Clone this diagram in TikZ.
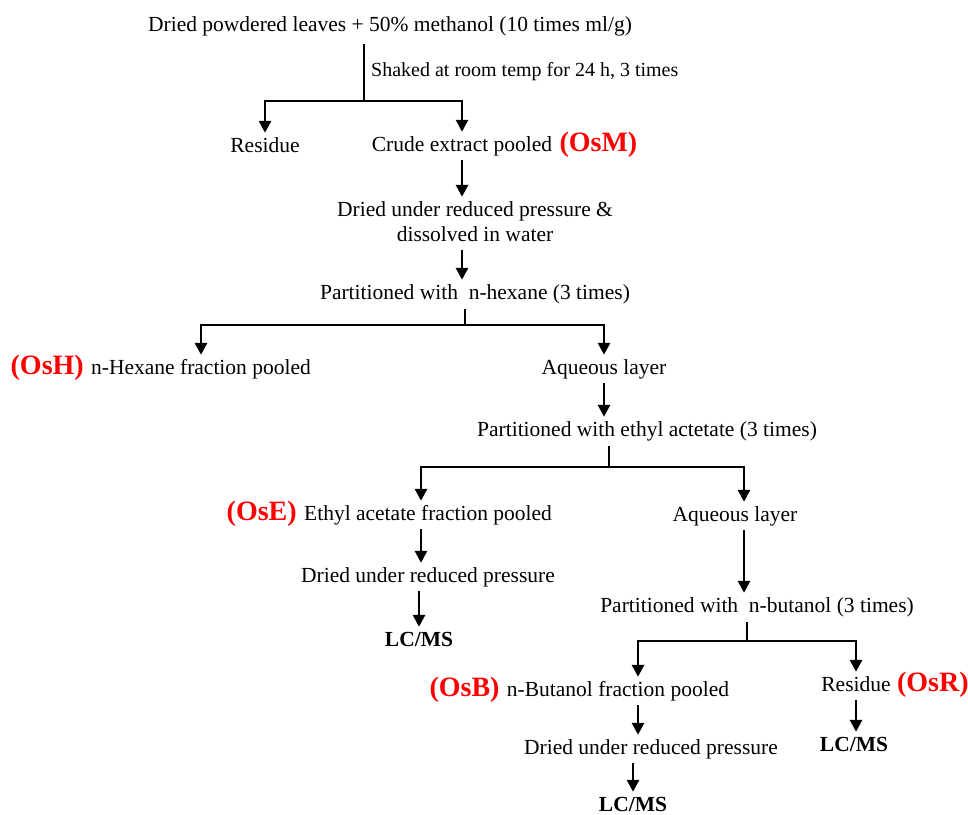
\documentclass[tikz,border=0pt]{standalone}
\usepackage{fontspec}
\setmainfont{Liberation Serif}
\usetikzlibrary{arrows.meta,positioning}
\definecolor{tagred}{HTML}{FF0000}

\begin{document}
\begin{tikzpicture}[x=1pt, y=-1pt, font=\fontsize{21.5}{25}\selectfont]
  \tikzset{txt/.style={anchor=base, inner sep=0pt, text height=15pt, text depth=5pt},
    small/.style={txt, font=\fontsize{20}{24}\selectfont},
    lcms/.style={txt, font=\fontsize{21.5}{25}\selectfont\bfseries},
    tag/.style={inner sep=0pt, text=tagred, font=\fontsize{28}{31}\selectfont\bfseries},
    ln/.style={line width=2.8pt},
    arr/.style={ln, -{Triangle[length=12pt,width=12pt]}, shorten >=4pt}}
  \useasboundingbox (0,0) rectangle (968,814);

  % extraction
  \node[txt] (leaves) at (390,31) {Dried powdered leaves + 50\% methanol (10 times ml/g)};
  \coordinate (j1) at (364,101);
  \node[small, anchor=base west] (shake) at (371,76) {Shaked at room temp for 24 h, 3 times};
  \node[txt] (res1) at (265,152) {Residue};
  \node[txt] (crude) at (462,151) {Crude extract pooled};
  \node[tag, base right=7pt of crude] (osm) {(OsM)};
  \draw[ln, shorten <=8pt] (leaves.south -| j1) -- (j1);
  \draw[arr] (j1) -| (res1);
  \draw[arr] (j1) -| (crude);

  % concentration
  \node[txt] (dry1) at (475,216) {Dried under reduced pressure \&};
  \node[txt] (diss) at (475,241) {dissolved in water};
  \node[txt] (hexpart) at (475,299) {Partitioned with \ n-hexane (3 times)};
  \draw[arr, shorten <=4pt] (crude.south) -- (crude.south |- dry1.north);
  \draw[arr, shorten <=4pt] (crude.south |- diss.south) -- (crude.south |- hexpart.north);

  % n-hexane partition
  \coordinate (j2) at (465,325);
  \draw[ln, shorten <=5pt] (hexpart.south -| j2) -- (j2);
  \node[txt] (hex) at (201,374) {n-Hexane fraction pooled};
  \node[tag, base left=7pt of hex] (osh) {(OsH)};
  \node[txt] (aq1) at (604,374) {Aqueous layer};
  \draw[arr] (j2) -| (hex);
  \draw[arr] (j2) -| (aq1);

  % ethyl acetate partition
  \node[txt] (etpart) at (647,436) {Partitioned with ethyl actetate (3 times)};
  \draw[arr, shorten <=4pt] (aq1.south) -- (aq1.south |- etpart.north);
  \coordinate (j3) at (609,467);
  \draw[ln, shorten <=5pt] (etpart.south -| j3) -- (j3);
  \node[txt] (ethyl) at (428,520) {Ethyl acetate fraction pooled};
  \node[tag, base left=7pt of ethyl] (ose) {(OsE)};
  \node[txt] (aq2) at (735,521) {Aqueous layer};
  \draw[arr] (j3) -| ([xshift=-7pt]ethyl.north);
  \draw[arr] (j3) -| ([xshift=9pt]aq2.north);
  \node[txt] (dry2) at (428,582) {Dried under reduced pressure};
  \node[lcms] (lc1) at (419,646) {LC/MS};
  \draw[arr, shorten <=4pt] ([xshift=-7pt]ethyl.south) -- ([xshift=-7pt]ethyl.south |- dry2.north);
  \draw[arr, shorten <=4pt] (lc1.north |- dry2.south) -- (lc1.north);

  % n-butanol partition
  \node[txt] (bupart) at (757,612) {Partitioned with \ n-butanol (3 times)};
  \draw[arr, shorten <=4pt] ([xshift=9pt]aq2.south) -- ([xshift=9pt]aq2.south |- bupart.north);
  \coordinate (j4) at (747,641);
  \draw[ln, shorten <=5pt] (bupart.south -| j4) -- (j4);
  \node[txt] (but) at (618,696) {n-Butanol fraction pooled};
  \node[tag, base left=7pt of but] (osb) {(OsB)};
  \node[txt] (res2) at (856,691) {Residue};
  \node[tag, base right=6pt of res2] (osr) {(OsR)};
  \draw[arr] (j4) -| ([xshift=20pt]but.north);
  \draw[arr] (j4) -| (res2);
  \node[lcms] (lc2) at (854,751) {LC/MS};
  \draw[arr, shorten <=4pt] (res2.south) -- (res2.south |- lc2.north);
  \node[txt] (dry3) at (651,754) {Dried under reduced pressure};
  \node[lcms] (lc3) at (633,811) {LC/MS};
  \draw[arr, shorten <=4pt] ([xshift=20pt]but.south) -- ([xshift=20pt]but.south |- dry3.north);
  \draw[arr, shorten <=4pt] (lc3.north |- dry3.south) -- (lc3.north);
\end{tikzpicture}
\end{document}
